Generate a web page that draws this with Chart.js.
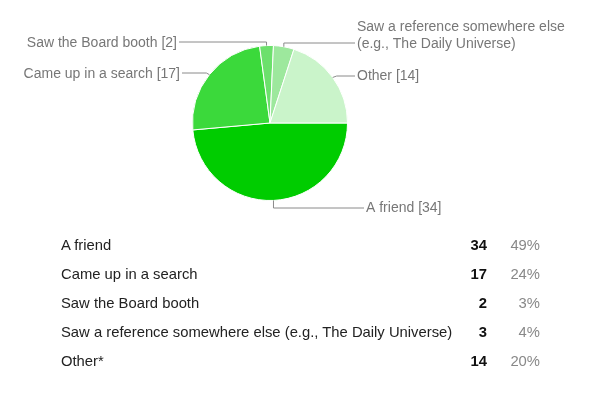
<!DOCTYPE html>
<html><head><meta charset="utf-8">
<script src="https://cdn.jsdelivr.net/npm/chart.js@4"></script>
<style>
html,body{margin:0;padding:0;background:#fff;}
#wrap{position:relative;width:600px;height:400px;overflow:hidden;}
canvas{position:absolute;left:0;top:0;}
.row{position:absolute;left:0;width:600px;height:20px;font-family:"Liberation Sans",Arial,sans-serif;font-size:14.8px;line-height:20px;}
.lab{position:absolute;left:61px;top:0;color:#222;}
.cnt{position:absolute;right:113px;top:0;font-weight:bold;color:#111;}
.pct{position:absolute;right:60px;top:0;color:#888;}
</style></head>
<body><div id="wrap"><canvas id="c" width="600" height="400"></canvas><div id="tbl"></div></div>
<script>
// ---- data ----
const categories = ["A friend", "Came up in a search", "Saw the Board booth", "Saw a reference somewhere else (e.g., The Daily Universe)", "Other*"];
const counts = [34, 17, 2, 3, 14];
const percents = ["49%", "24%", "3%", "4%", "20%"];
const pieLabels = [
  ["A friend [34]"],
  ["Came up in a search [17]"],
  ["Saw the Board booth [2]"],
  ["Saw a reference somewhere else", "(e.g., The Daily Universe)"],
  ["Other [14]"]
];

// ---- style ----
const sliceColors = ["#00cc00", "#3bd93b", "#6ce06c", "#9de89d", "#caf4ca"];
const labelLayout = [
  {side: "right", tx: 366, ty: [208], ly: 208, bend: 0},
  {side: "left",  tx: 180, ty: [74],  ly: 73,  bend: -3},
  {side: "left",  tx: 177, ty: [43],  ly: 42,  bend: 0},
  {side: "right", tx: 357, ty: [27, 44], ly: 43, bend: 0},
  {side: "right", tx: 357, ty: [76],  ly: 76,  bend: 4}
];
const rowCenters = [245, 274, 303, 332, 361];

const leaderPlugin = {
  id: "leaders",
  afterDatasetsDraw(chart) {
    const ctx = chart.ctx;
    const arcs = chart.getDatasetMeta(0).data;
    ctx.save();
    arcs.forEach((arc, i) => {
      const p = arc.getProps(["x", "y", "startAngle", "endAngle", "outerRadius"], true);
      const mid = (p.startAngle + p.endAngle) / 2;
      const ex = p.x + p.outerRadius * Math.cos(mid);
      const ey = p.y + p.outerRadius * Math.sin(mid);
      const L = labelLayout[i];
      const endX = L.side === "right" ? L.tx - 2 : L.tx + 2;
      ctx.beginPath();
      ctx.moveTo(ex, ey);
      ctx.lineTo(ex + L.bend, L.ly);
      ctx.lineTo(endX, L.ly);
      ctx.strokeStyle = "#8a8a8a";
      ctx.lineWidth = 1;
      ctx.stroke();
      ctx.fillStyle = "#777";
      ctx.font = '14px "Liberation Sans", Arial, sans-serif';
      ctx.textBaseline = "middle";
      ctx.textAlign = L.side === "right" ? "left" : "right";
      pieLabels[i].forEach((t, k) => ctx.fillText(t, L.tx, L.ty[k]));
    });
    ctx.restore();
  }
};

new Chart(document.getElementById("c"), {
  type: "pie",
  data: {
    labels: categories,
    datasets: [{
      data: counts,
      backgroundColor: sliceColors,
      borderColor: "#ffffff",
      borderWidth: 1
    }]
  },
  options: {
    responsive: false,
    devicePixelRatio: 1,
    animation: false,
    rotation: 90,
    layout: {padding: {left: 192, right: 252, top: 45, bottom: 199}},
    plugins: {legend: {display: false}, tooltip: {enabled: false}}
  },
  plugins: [leaderPlugin]
});

// ---- table below the chart ----
const tbl = document.getElementById("tbl");
categories.forEach((c, i) => {
  const r = document.createElement("div");
  r.className = "row";
  r.style.top = (rowCenters[i] - 10) + "px";
  r.innerHTML = '<span class="lab"></span><span class="cnt"></span><span class="pct"></span>';
  r.children[0].textContent = c;
  r.children[1].textContent = counts[i];
  r.children[2].textContent = percents[i];
  tbl.appendChild(r);
});
</script>
</body></html>
